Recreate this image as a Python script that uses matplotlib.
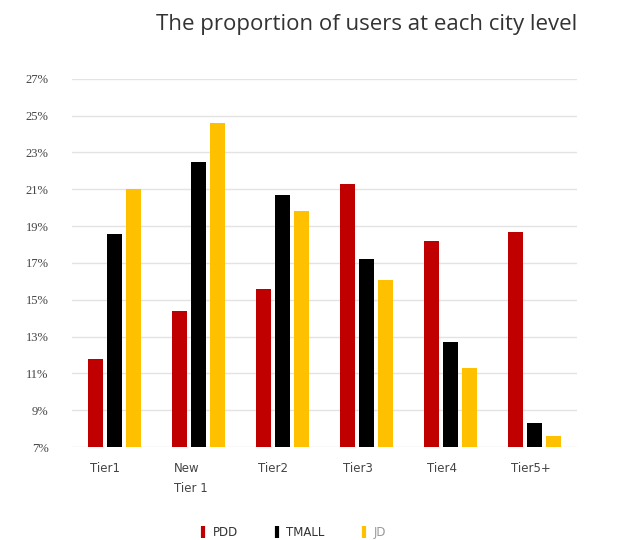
import numpy as np
import matplotlib
matplotlib.use('Agg')
import matplotlib.pyplot as plt
from matplotlib.lines import Line2D

# Data (percent of users)
tiers = ['Tier1', 'New\nTier 1', 'Tier2', 'Tier3', 'Tier4', 'Tier5+']
pdd = [11.8, 14.4, 15.6, 21.3, 18.2, 18.7]
tmall = [18.6, 22.5, 20.7, 17.2, 12.7, 8.3]
jd = [21.0, 24.6, 19.8, 16.1, 11.3, 7.6]
yticks = list(range(7, 28, 2))

colors = ['#C00000', '#000000', '#FFC000']
names = ['PDD', 'TMALL', 'JD']

fig = plt.figure(figsize=(6.27, 5.4), dpi=100)
ax = fig.add_axes([0.115, 0.172, 0.805, 0.682])

x = np.arange(len(tiers))
width = 0.18
step = 0.225
for i, (vals, c) in enumerate(zip([pdd, tmall, jd], colors)):
    ax.bar(x + (i - 1) * step, np.array(vals) - 7, width, bottom=7,
           color=c, zorder=3)

ax.set_xlim(-0.5, len(tiers) - 0.5)
ax.set_ylim(7, 27)
ax.set_yticks(yticks)
ax.set_yticklabels(['%d%%' % v for v in yticks], family='Liberation Serif',
                   fontsize=9, color='#444444')
ax.set_xticks(x - step - width / 2 + 0.03)
ax.set_xticklabels(tiers, fontsize=8.5, color='#444444', family='DejaVu Sans',
                   ha='left', linespacing=1.7)
ax.tick_params(axis='y', length=0, pad=17)
ax.tick_params(axis='x', length=0, pad=11)
ax.grid(axis='y', color='#e3e3e3', linewidth=1, zorder=0)
for s in ax.spines.values():
    s.set_visible(False)

fig.text(0.584, 0.954, 'The proportion of users at each city level',
         ha='center', va='center', fontsize=16, family='Open Sans',
         color='#333333')

handles = [Line2D([], [], color=c, marker='|', linestyle='none',
                  markersize=8, markeredgewidth=3) for c in colors]
leg = fig.legend(handles, names, loc='center', bbox_to_anchor=(0.465, 0.013),
                 ncol=3, frameon=False, fontsize=8.5, handletextpad=0.3,
                 columnspacing=2.8, handlelength=1)
for t, c in zip(leg.get_texts(), ['#333333', '#333333', '#999999']):
    t.set_color(c)

fig.savefig('out.png', dpi=100)
